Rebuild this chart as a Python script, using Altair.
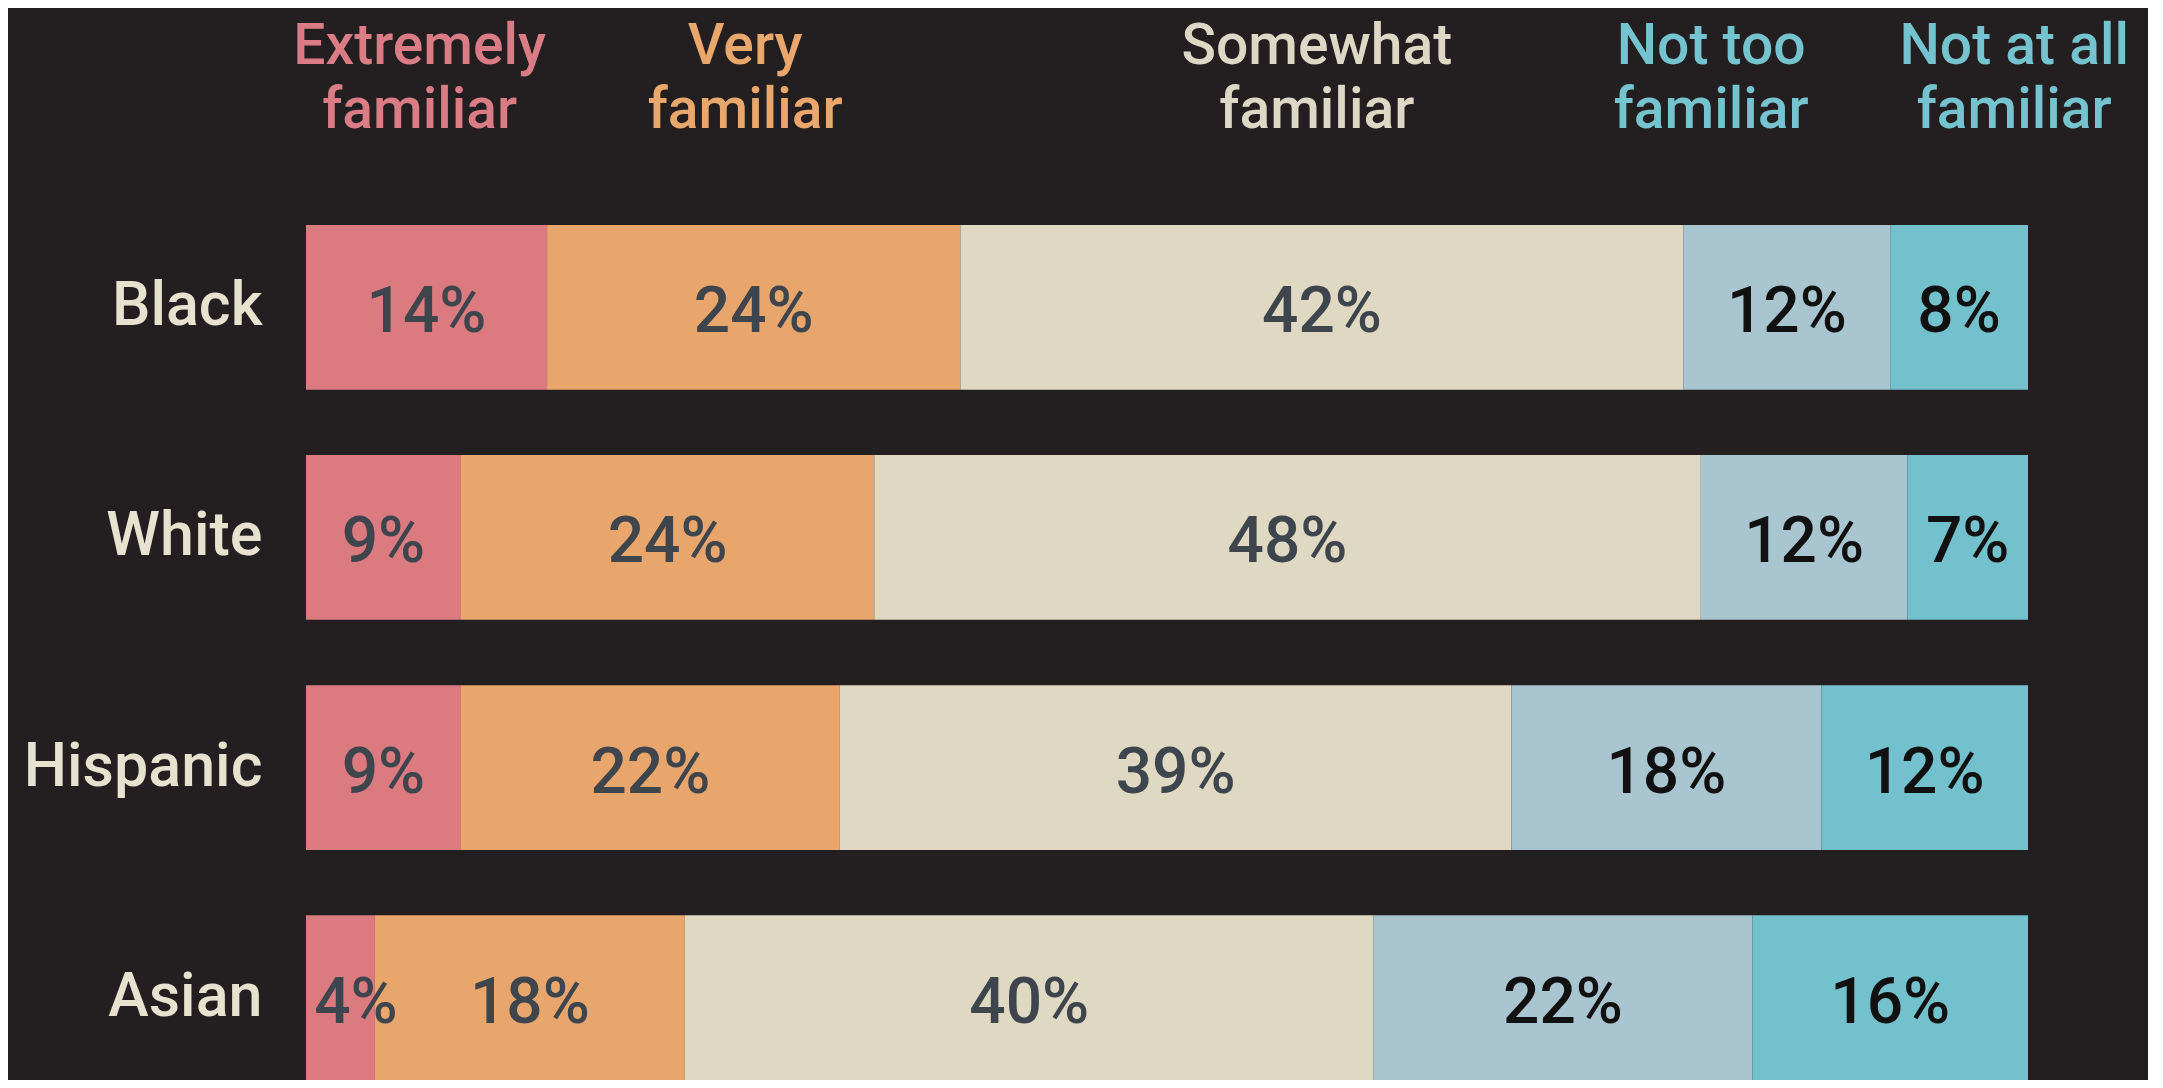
import altair as alt
import pandas as pd

# ---- data ----
groups = ["Black", "White", "Hispanic", "Asian"]
levels = ["Extremely familiar", "Very familiar", "Somewhat familiar",
          "Not too familiar", "Not at all familiar"]
extremely = [14, 9, 9, 4]
very = [24, 24, 22, 18]
somewhat = [42, 48, 39, 40]
not_too = [12, 12, 18, 22]
not_at_all = [8, 7, 12, 16]

header_line1 = ["Extremely", "Very", "Somewhat", "Not too", "Not at all"]
header_line2 = ["familiar", "familiar", "familiar", "familiar", "familiar"]

# ---- annotation placement and styles (not data) ----
header_x = [6.6, 25.5, 58.7, 81.6, 99.2]
bar_colors = ["#db7b80", "#e8a66d", "#dfd8c3", "#a9c5d0", "#73c1cc"]
header_colors = ["#d97c85", "#eaa76b", "#ddd7c5", "#74c3ce", "#74c3ce"]
BG = "#231f20"
FONT = "Roboto"

series = [extremely, very, somewhat, not_too, not_at_all]
rows = []
for gi, g in enumerate(groups):
    for li, lvl in enumerate(levels):
        v = series[li][gi]
        rows.append({"group": g, "level": lvl, "order": li, "value": v,
                     "label": f"{v}%"})
df = pd.DataFrame(rows)
hdr = pd.DataFrame({"level": levels, "line1": header_line1,
                    "line2": header_line2, "hx": header_x})

xscale = alt.Scale(domain=[0, 100], nice=False, zero=True)
yscale = alt.Scale(domain=groups, paddingInner=0.284, paddingOuter=0)

base = alt.Chart(df).transform_stack(
    stack="value", groupby=["group"], as_=["x0", "x1"],
    sort=[alt.SortField("order", order="ascending")]
).transform_calculate(
    # centre of the segment, kept clear of the bar's left edge
    mid="max((datum.x0 + datum.x1) / 2, datum.x0 + 2.9)"
)

bars = base.mark_bar(cornerRadius=0).encode(
    x=alt.X("x0:Q", scale=xscale, axis=None),
    x2="x1:Q",
    y=alt.Y("group:N", scale=yscale, sort=groups,
            axis=alt.Axis(title=None, ticks=False, domain=False, grid=False,
                          labelFontSize=61, labelColor="#e6e2cf",
                          labelFont=FONT, labelPadding=44, labelAlign="right",
                          labelFontWeight=500, labelLimit=0)),
    color=alt.Color("level:N", scale=alt.Scale(domain=levels, range=bar_colors),
                    legend=None),
)

labels = base.mark_text(font=FONT, fontSize=64, fontWeight=500,
                        baseline="middle", align="center", dy=6).encode(
    x=alt.X("mid:Q", scale=xscale),
    y=alt.Y("group:N", scale=yscale, sort=groups),
    text="label:N",
    color=alt.condition("datum.order >= 3", alt.value("#111111"),
                        alt.value("#3e454d")),
)

h1 = alt.Chart(hdr).mark_text(font=FONT, fontSize=57, fontWeight=500,
                              baseline="middle", align="center").encode(
    x=alt.X("hx:Q", scale=xscale),
    y=alt.value(-178),
    text="line1:N",
    color=alt.Color("level:N",
                    scale=alt.Scale(domain=levels, range=header_colors),
                    legend=None),
)
h2 = alt.Chart(hdr).mark_text(font=FONT, fontSize=57, fontWeight=500,
                              baseline="middle", align="center").encode(
    x=alt.X("hx:Q", scale=xscale),
    y=alt.value(-114),
    text="line2:N",
    color=alt.Color("level:N",
                    scale=alt.Scale(domain=levels, range=header_colors),
                    legend=None),
)

chart = alt.layer(bars, labels, h1, h2).resolve_scale(
    color="independent"
).properties(
    width=1722, height=855,
    padding={"left": 298, "top": 217, "right": 120, "bottom": 0},
    autosize=alt.AutoSizeParams(type="none"),
    background=BG,
).configure_view(stroke=None)

chart.save("out.html", embed_options={"renderer": "svg", "actions": False})
